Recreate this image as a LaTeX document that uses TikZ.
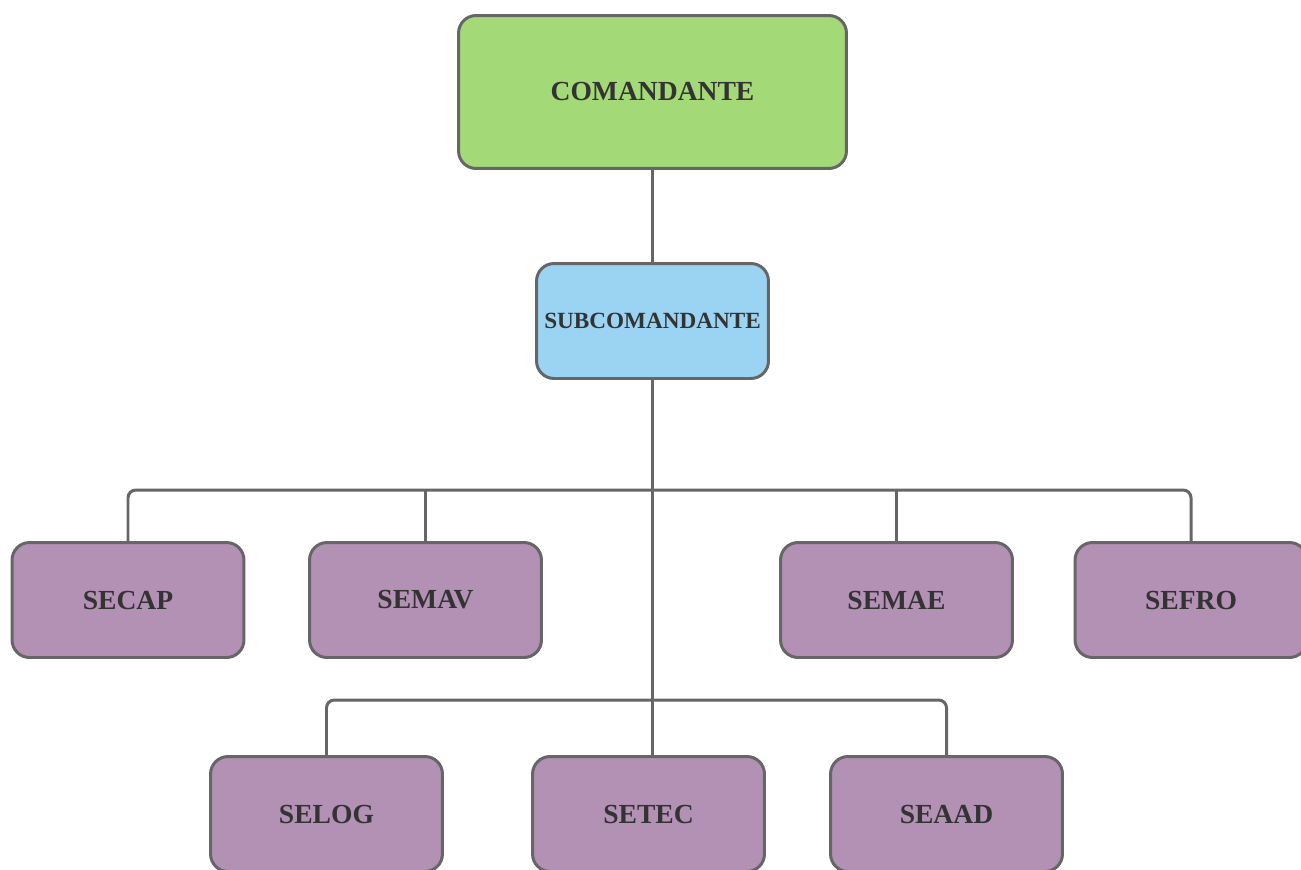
\documentclass[tikz,border=0pt]{standalone}
\usepackage{fontspec}
\setmainfont{Liberation Serif}
\usetikzlibrary{positioning}

\definecolor{linegray}{HTML}{666666}
\definecolor{textgray}{HTML}{333333}
\definecolor{comgreen}{HTML}{A3D977}
\definecolor{subblue}{HTML}{9BD3F2}
\definecolor{secpurple}{HTML}{B391B5}

\tikzset{
    box/.style={draw=linegray, line width=1.7pt, rounded corners=10pt,
        text=textgray, font=\fontsize{15.7}{18}\selectfont\bfseries,
        minimum width=4.64cm, minimum height=2.30cm, inner sep=0pt},
    secbox/.style={box, fill=secpurple},
    link/.style={draw=linegray, line width=1.7pt, rounded corners=4.5pt}
}

\begin{document}
\begin{tikzpicture}[x=0.02cm, y=-0.02cm]
    \useasboundingbox (0,0) rectangle (1301,869);

    \node[box, fill=comgreen, minimum width=7.76cm, minimum height=3.06cm] (com) at (652.5,92) {COMANDANTE};
    \node[box, fill=subblue, font=\fontsize{13.2}{16}\selectfont\bfseries] (sub) at (652.5,321) {SUBCOMANDANTE};

    \node[secbox] (secap) at (128,600) {SECAP};
    \node[secbox] (semav) at (425.5,600) {SEMAV};
    \node[secbox] (semae) at (896.5,600) {SEMAE};
    \node[secbox] (sefro) at (1191,600) {SEFRO};

    \node[secbox] (selog) at (326.5,814) {SELOG};
    \node[secbox] (setec) at (648.5,814) {SETEC};
    \node[secbox] (seaad) at (946.5,814) {SEAAD};

    \coordinate (busA) at (652.5,490);
    \coordinate (busB) at (652.5,700);

    \draw[link] (com.south) -- (sub.north);
    \draw[link] (sub.south) -- (sub.south |- setec.north);
    \draw[link] (secap.north) |- (busA) -| (sefro.north);
    \draw[link] (semav.north) -- (semav.north |- busA);
    \draw[link] (semae.north) -- (semae.north |- busA);
    \draw[link] (selog.north) |- (busB) -| (seaad.north);
\end{tikzpicture}
\end{document}
